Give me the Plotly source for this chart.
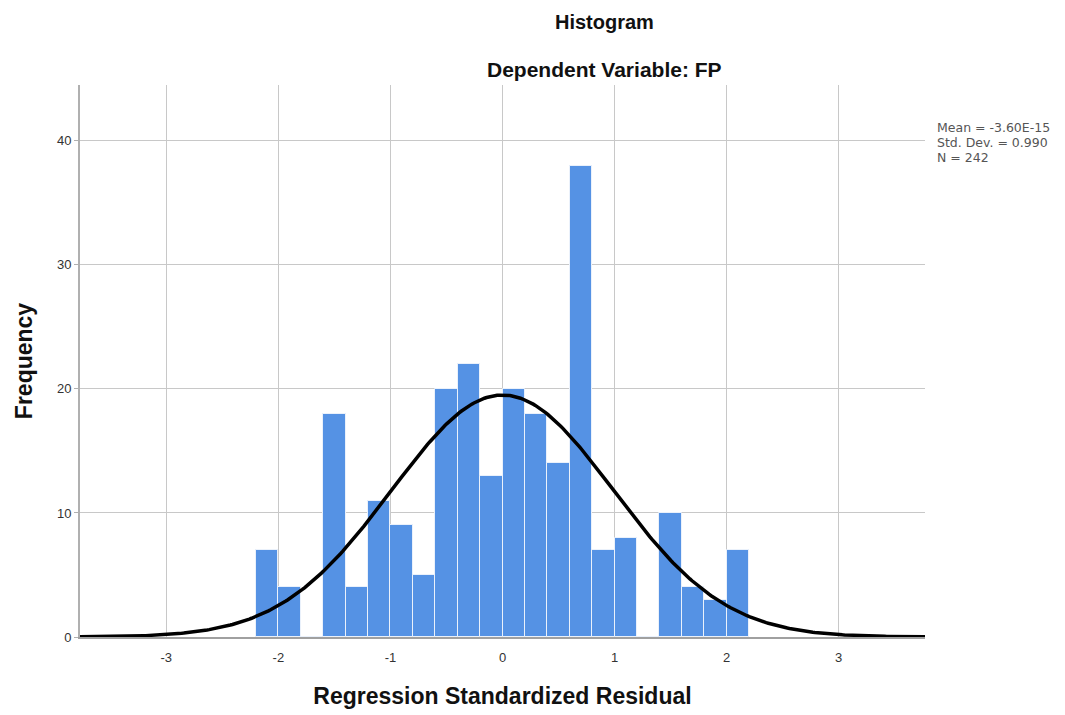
import numpy as np
import plotly.graph_objects as go

# Histogram data (bin centers, width 0.2)
bin_centers = [-2.1, -1.9, -1.7, -1.5, -1.3, -1.1, -0.9, -0.7, -0.5, -0.3, -0.1,
               0.1, 0.3, 0.5, 0.7, 0.9, 1.1, 1.3, 1.5, 1.7, 1.9, 2.1]
frequencies = [7, 4, 0, 18, 4, 11, 9, 5, 20, 22, 13,
               20, 18, 14, 38, 7, 8, 0, 10, 4, 3, 7]
bin_width = 0.2

# Summary statistics
mean_val = 0.0
std_dev = 0.990
n_obs = 242
stats_lines = ["Mean = -3.60E-15", "Std. Dev. = 0.990", "N = 242"]

x_ticks = [-3, -2, -1, 0, 1, 2, 3]
y_ticks = [0, 10, 20, 30, 40]

# Normal curve scaled to counts
curve_x = np.linspace(-3.77, 3.77, 400)
curve_y = n_obs * bin_width * np.exp(-0.5 * ((curve_x - mean_val) / std_dev) ** 2) / (std_dev * np.sqrt(2 * np.pi))

fig = go.Figure()
fig.add_trace(go.Bar(
    x=bin_centers, y=frequencies, width=bin_width,
    marker=dict(color="#5592E4", line=dict(color="#EAF1FB", width=1)),
    hoverinfo="x+y", showlegend=False,
))
fig.add_trace(go.Scatter(
    x=curve_x, y=curve_y, mode="lines",
    line=dict(color="#000000", width=3.5), showlegend=False, hoverinfo="skip",
))

font_family = "Liberation Sans, Arial, sans-serif"

# plot area in figure coords: x 72..917, y 77..629
PL, PR, PT, PB = 72, 917, 77, 629
PW, PH = PR - PL, PB - PT

annotations = [
    dict(text="<b>Histogram</b>", xref="paper", yref="paper",
         x=(596 - PL) / PW, y=1 + (PT - 14) / PH, xanchor="center", yanchor="middle",
         showarrow=False, font=dict(size=20, color="#111111")),
    dict(text="<b>Dependent Variable: FP</b>", xref="paper", yref="paper",
         x=(596 - PL) / PW, y=1 + (PT - 62) / PH, xanchor="center", yanchor="middle",
         showarrow=False, font=dict(size=21, color="#111111")),
]
for i, line in enumerate(stats_lines):
    annotations.append(dict(
        text=line, xref="paper", yref="paper",
        x=(927 - PL) / PW, y=1 - (119 + 15 * i - PT) / PH, xanchor="left", yanchor="middle",
        align="left", showarrow=False,
        font=dict(family="DejaVu Sans, sans-serif", size=12.5, color="#555555"),
    ))

fig.update_layout(
    width=1065, height=715,
    margin=dict(l=PL, r=1065 - PR, t=PT, b=715 - PB),
    paper_bgcolor="white", plot_bgcolor="white",
    font=dict(family=font_family, color="#222222"),
    bargap=0,
    xaxis=dict(
        range=[-3.77, 3.77], tickvals=x_ticks, ticktext=[str(t) for t in x_ticks],
        showgrid=True, gridcolor="#C8C8C8", gridwidth=1,
        zeroline=False, showline=True, linecolor="#A0A0A0", linewidth=2,
        ticks="outside", ticklen=7, tickcolor="rgba(0,0,0,0)",
        tickfont=dict(size=13, color="#333333"),
        title=dict(text="<b>Regression Standardized Residual</b>",
                   font=dict(size=23, color="#111111"), standoff=24),
    ),
    yaxis=dict(
        range=[0, 44.5], tickvals=y_ticks, ticktext=[str(t) for t in y_ticks],
        showgrid=True, gridcolor="#C8C8C8", gridwidth=1,
        zeroline=False, showline=True, linecolor="#B0B0B0", linewidth=2,
        ticks="outside", ticklen=4, tickcolor="#B0B0B0",
        tickfont=dict(size=13, color="#333333"),
        title=dict(text="<b>Frequency</b>", font=dict(size=23, color="#111111"), standoff=18),
    ),
    annotations=annotations,
)

fig.write_html("out.html")
